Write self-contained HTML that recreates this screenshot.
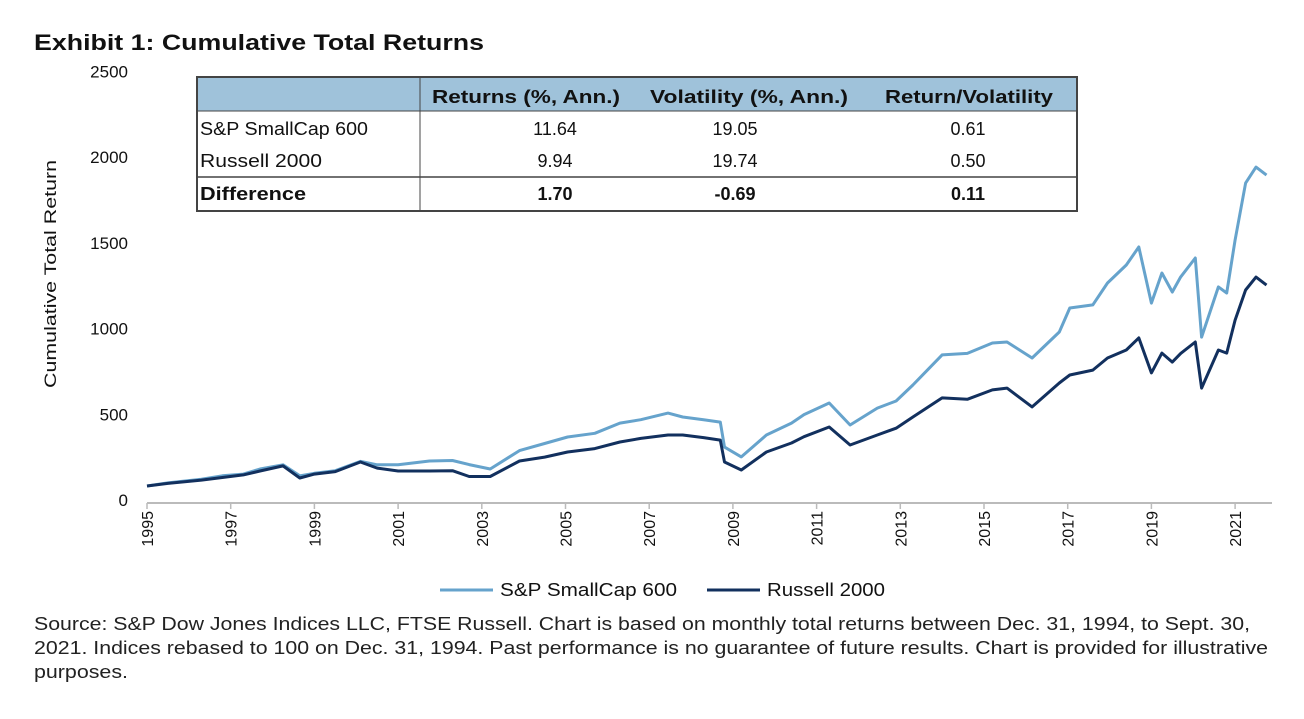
<!DOCTYPE html>
<html><head><meta charset="utf-8"><style>
body{margin:0;background:#fff;width:1304px;height:714px;overflow:hidden;font-family:"Liberation Sans",Arial,sans-serif}
svg text{font-family:"Liberation Sans",Arial,sans-serif}
</style></head><body>
<svg id="chart" width="1304" height="714" xmlns="http://www.w3.org/2000/svg">
<text x="34" y="50" font-size="22" font-weight="bold" fill="#111" textLength="450" lengthAdjust="spacingAndGlyphs">Exhibit 1: Cumulative Total Returns</text>
<g id="yaxis"></g>
<text transform="translate(56,274) rotate(-90)" text-anchor="middle" font-size="17" fill="#111" textLength="228" lengthAdjust="spacingAndGlyphs">Cumulative Total Return</text>
<g id="xaxis"></g>
<g id="series"></g>
<g>
<rect x="197" y="77" width="880" height="34" fill="#9fc2da"/>
<rect x="197" y="77" width="880" height="134" fill="none" stroke="#444" stroke-width="2"/>
<line x1="197" y1="111" x2="1077" y2="111" stroke="#444" stroke-width="1"/>
<line x1="197" y1="177" x2="1077" y2="177" stroke="#444" stroke-width="1.5"/>
<line x1="420" y1="77" x2="420" y2="211" stroke="#444" stroke-width="1"/>
<g font-size="18" fill="#111">
<text x="432" y="103" font-weight="bold" textLength="188" lengthAdjust="spacingAndGlyphs">Returns (%, Ann.)</text>
<text x="650" y="103" font-weight="bold" textLength="198" lengthAdjust="spacingAndGlyphs">Volatility  (%, Ann.)</text>
<text x="885" y="103" font-weight="bold" textLength="168" lengthAdjust="spacingAndGlyphs">Return/Volatility</text>
<text x="200" y="135" textLength="168" lengthAdjust="spacingAndGlyphs">S&amp;P SmallCap 600</text>
<text x="555" y="135" text-anchor="middle">11.64</text>
<text x="735" y="135" text-anchor="middle">19.05</text>
<text x="968" y="135" text-anchor="middle">0.61</text>
<text x="200" y="167" textLength="122" lengthAdjust="spacingAndGlyphs">Russell 2000</text>
<text x="555" y="167" text-anchor="middle">9.94</text>
<text x="735" y="167" text-anchor="middle">19.74</text>
<text x="968" y="167" text-anchor="middle">0.50</text>
<text x="200" y="200" font-weight="bold" textLength="106" lengthAdjust="spacingAndGlyphs">Difference</text>
<text x="555" y="200" text-anchor="middle" font-weight="bold">1.70</text>
<text x="735" y="200" text-anchor="middle" font-weight="bold">-0.69</text>
<text x="968" y="200" text-anchor="middle" font-weight="bold">0.11</text>
</g></g>
<g>
<line x1="440" y1="590" x2="493" y2="590" stroke="#66a3cc" stroke-width="3"/>
<text x="500" y="596" font-size="18" fill="#111" textLength="177" lengthAdjust="spacingAndGlyphs">S&amp;P SmallCap 600</text>
<line x1="707" y1="590" x2="760" y2="590" stroke="#12305e" stroke-width="3"/>
<text x="767" y="596" font-size="18" fill="#111" textLength="118" lengthAdjust="spacingAndGlyphs">Russell 2000</text>
</g>
<g font-size="18" fill="#222">
<text x="34" y="630" textLength="1216" lengthAdjust="spacingAndGlyphs">Source: S&amp;P Dow Jones Indices LLC, FTSE Russell. Chart is based on monthly total returns between Dec. 31, 1994, to Sept. 30,</text>
<text x="34" y="654" textLength="1234" lengthAdjust="spacingAndGlyphs">2021. Indices rebased to 100 on Dec. 31, 1994. Past performance is no guarantee of future results. Chart is provided for illustrative</text>
<text x="34" y="678" textLength="94" lengthAdjust="spacingAndGlyphs">purposes.</text>
</g>
</svg>
<script>
const dates=[1995.0,1995.5,1996.3,1996.8,1997.3,1997.7,1998.25,1998.65,1999.0,1999.5,2000.1,2000.5,2001.0,2001.75,2002.3,2002.7,2003.2,2003.9,2004.5,2005.05,2005.7,2006.3,2006.8,2007.45,2007.8,2008.3,2008.7,2008.8,2009.2,2009.8,2010.4,2010.7,2011.3,2011.8,2012.45,2012.9,2013.3,2014.0,2014.6,2015.2,2015.55,2016.15,2016.8,2017.05,2017.6,2017.95,2018.4,2018.7,2019.0,2019.25,2019.5,2019.7,2020.05,2020.2,2020.6,2020.8,2021.0,2021.25,2021.5,2021.75];
const sp600=[100,118,140,160,170,200,225,160,175,190,245,225,225,247,250,226,200,308,350,388,410,470,490,529,506,490,476,329,271,400,470,520,588,459,558,600,694,871,880,941,947,853,1006,1147,1165,1294,1400,1506,1176,1353,1241,1330,1441,976,1271,1235,1547,1882,1976,1929];
const russell=[100,115,135,150,165,188,218,147,170,185,241,205,188,188,190,156,156,247,270,300,320,359,380,400,400,385,370,241,194,300,353,390,447,341,400,440,506,618,610,665,676,565,706,753,782,853,900,971,765,882,829,880,947,676,900,882,1076,1253,1329,1282];
const yTicks=[0,500,1000,1500,2000,2500];
const xTicks=[1995,1997,1999,2001,2003,2005,2007,2009,2011,2013,2015,2017,2019,2021];
const NS='http://www.w3.org/2000/svg';
const X=v=>147+(v-1995)*41.85, Y=v=>503-v*0.17;
function mk(t,a,p){const e=document.createElementNS(NS,t);for(const k in a)e.setAttribute(k,a[k]);p.appendChild(e);return e;}
const ya=document.getElementById('yaxis'),xa=document.getElementById('xaxis'),sg=document.getElementById('series');
yTicks.forEach(v=>{const t=mk('text',{x:128,y:Y(v)+3-v*0.0015,'text-anchor':'end','font-size':17,fill:'#111'},ya);t.textContent=v;

});
const ax=mk('line',{x1:147,y1:503,x2:1272,y2:503,stroke:'#bbb','stroke-width':2},xa);


xTicks.forEach(v=>{mk('line',{x1:X(v),y1:503,x2:X(v),y2:509,stroke:'#bbb','stroke-width':1.5},xa);
const t=mk('text',{transform:`translate(${X(v)+6},511) rotate(-90)`,'text-anchor':'end','font-size':16,fill:'#111'},xa);t.textContent=v;

});
function line(vals,col,name){const d=vals.map((v,i)=>(i?'L':'M')+X(dates[i]).toFixed(1)+','+Y(v).toFixed(1)).join('');
const p=mk('path',{d:d,fill:'none',stroke:col,'stroke-width':3,'stroke-linejoin':'round'},sg);

}
line(sp600,'#66a3cc','sp600-line');
line(russell,'#12305e','russell-2000-line');
</script>
</body></html>
